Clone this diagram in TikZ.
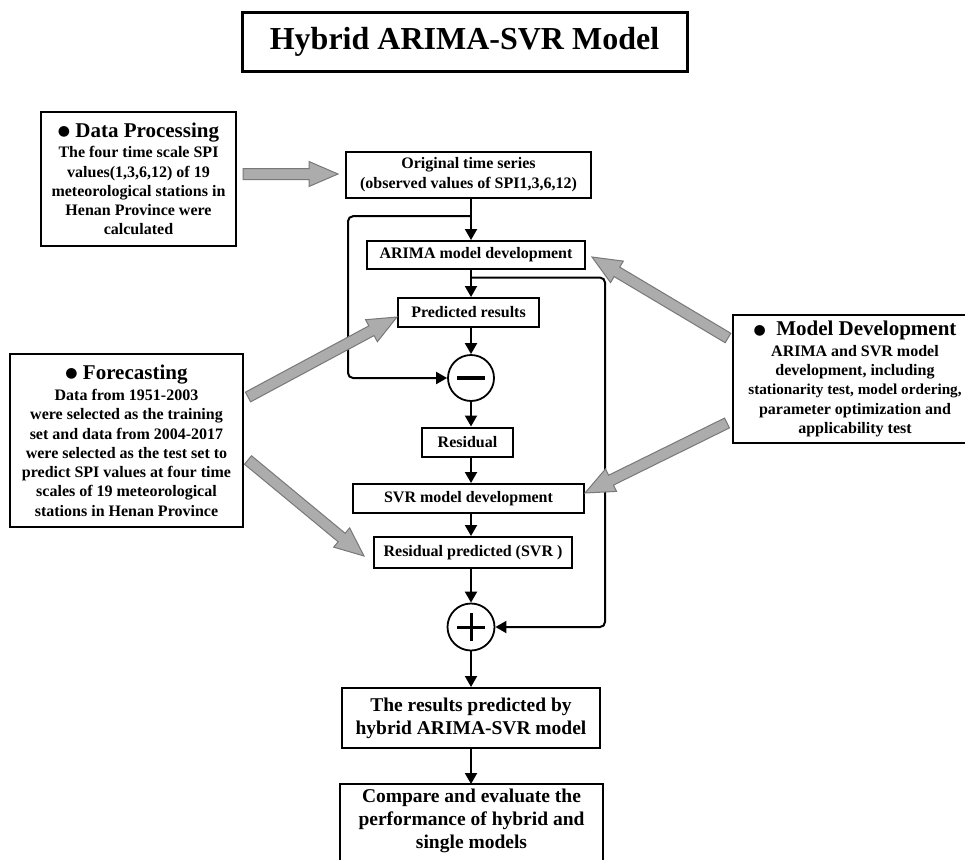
\documentclass[tikz,border=0pt]{standalone}
\usepackage{fontspec}
\setmainfont{Liberation Serif}
\newfontfamily\symf{DejaVu Sans}
\usetikzlibrary{arrows.meta,calc}
\definecolor{arrfill}{RGB}{172,172,172}
\definecolor{arrline}{RGB}{120,120,120}
\newcommand\bul{\raisebox{1.5pt}{\symf\fontsize{14}{14}\selectfont ●}}
\newcommand\headf{\fontsize{21}{24}\selectfont}
\newcommand\grayarrow[2]{%
  \coordinate (ga-h) at ($(#2)!29pt!(#1)$);
  \filldraw[grayarr] ($(#1)!5.5pt!90:(#2)$) -- ($(ga-h)!5.5pt!-90:(#1)$) -- ($(ga-h)!12.5pt!-90:(#1)$) -- (#2)
    -- ($(ga-h)!12.5pt!90:(#1)$) -- ($(ga-h)!5.5pt!90:(#1)$) -- ($(#1)!5.5pt!-90:(#2)$) -- cycle;}
\tikzset{
  box/.style={draw, line width=2pt, align=center, inner sep=0pt, font=\bfseries\fontsize{16}{19.3}\selectfont},
  titlebox/.style={draw, line width=3pt, inner sep=0pt, minimum width=445pt, minimum height=58pt, font=\bfseries\fontsize{32}{36}\selectfont},
  bigbox/.style={box, font=\bfseries\fontsize{19.5}{23.3}\selectfont},
  opcircle/.style={draw, circle, line width=1.8pt, minimum size=46pt, inner sep=0pt},
  flow/.style={line width=2pt},
  arr/.style={flow, -{Triangle[length=11pt,width=12pt]}},
  grayarr/.style={fill=arrfill, draw=arrline, line width=1pt, line join=miter},
}
\begin{document}
\begin{tikzpicture}[x=1pt,y=-1pt]
\useasboundingbox (0,0) rectangle (965,859);
\clip (0,0) rectangle (965,859);
\fill[white] (0,0) rectangle (965,859);

\node[titlebox] (title) at (464.5,42) {Hybrid ARIMA-SVR Model};

\node[box, minimum width=195pt, minimum height=134pt] (dp) at (138.5,179)
  {\headf\bul\ Data Processing\\[1pt]
   The four time scale SPI\\ values(1,3,6,12) of 19\\ meteorological stations in\\ Henan Province were\\ calculated};

\node[box, minimum width=233pt, minimum height=173pt] (fc) at (126.5,440.5)
  {\headf\bul\ Forecasting\\[2pt]
   Data from 1951-2003\\ were selected as the training\\ set and data from 2004-2017\\ were selected as the test set to\\
   predict SPI values at four time\\ scales of 19 meteorological\\ stations in Henan Province};

\node[box, minimum width=244pt, minimum height=128pt] (md) at (855,379)
  {\headf\bul\ \ Model Development\\[1pt]
   ARIMA and SVR model\\ development, including\\ {\fontsize{15.2}{19.3}\selectfont stationarity test, model ordering,}\\ parameter optimization and\\ applicability test};

\node[box, minimum width=245pt, minimum height=46pt, font=\bfseries\fontsize{16}{20}\selectfont] (orig) at (468.5,175)
  {Original time series\\(observed values of SPI1,3,6,12)};
\node[box, minimum width=218pt, minimum height=28pt] (arima) at (476,255) {ARIMA model development};
\node[box, minimum width=141pt, minimum height=29pt] (pred) at (468.5,312.5) {Predicted results};
\node[opcircle] (minus) at (471,378) {};
\node[box, minimum width=91pt, minimum height=29pt] (resid) at (467.5,442) {Residual};
\node[box, minimum width=231pt, minimum height=29pt] (svr) at (468.5,498.5) {SVR model development};
\node[box, minimum width=198pt, minimum height=31pt] (rp) at (473,552.5) {Residual predicted (SVR )};
\node[opcircle, minimum size=47pt] (plus) at (471,627) {};
\node[bigbox, minimum width=258pt, minimum height=60pt] (res) at (471,718)
  {The results predicted by\\ hybrid ARIMA-SVR model};
\node[bigbox, draw=none, anchor=north, minimum width=261pt, inner ysep=3.5pt] (cmp) at (471.5,784)
  {Compare and evaluate the\\ performance of hybrid and\\ single models};
\draw[line width=2pt] ($(cmp.south west)+(0,40)$) -- (cmp.north west) -- (cmp.north east) -- ($(cmp.south east)+(0,40)$);

% signs
\draw[line width=3.5pt] ([xshift=-14pt]minus.center) -- ([xshift=14pt]minus.center);
\draw[line width=3pt] ([xshift=-14pt]plus.center) -- ([xshift=14pt]plus.center);
\draw[line width=3pt] ([yshift=-14pt]plus.center) -- ([yshift=14pt]plus.center);

% main flow
\draw[arr] (orig.south -| plus) -- (arima.north -| plus);
\draw[arr] (arima.south -| plus) -- (pred.north -| plus);
\draw[arr] (pred.south -| plus) -- (minus.north);
\draw[arr] (minus.south) -- (resid.north -| plus);
\draw[arr] (resid.south -| plus) -- (svr.north -| plus);
\draw[arr] (svr.south -| plus) -- (rp.north -| plus);
\draw[arr] (rp.south -| plus) -- (plus.north);
\draw[arr] (plus.south) -- (res.north -| plus);
\draw[arr] (res.south -| plus) -- (cmp.north -| plus);

\coordinate (j1) at ($(orig.south -| plus)!0.42!(arima.north -| plus)$);
\coordinate (lx) at (348,300);
\draw[arr, rounded corners=5pt] (j1) -| (lx |- minus) -- (minus.west);
\coordinate (j2) at ($(arima.south -| plus)!0.28!(pred.north -| plus)$);
\coordinate (rx) at (605,400);
\draw[arr, rounded corners=5pt] (j2) -| (rx |- plus) -- (plus.east);

% gray arrows
\coordinate (g1a) at (243,174);  \coordinate (g1b) at (338,174);
\coordinate (g2a) at (248,397);  \coordinate (g2b) at (397,317);
\coordinate (g3a) at (248,460);  \coordinate (g3b) at (364,556);
\coordinate (g4a) at (728,338);  \coordinate (g4b) at (592,257);
\coordinate (g5a) at (727,423);  \coordinate (g5b) at (585,493);
\grayarrow{g1a}{g1b}
\grayarrow{g2a}{g2b}
\grayarrow{g3a}{g3b}
\grayarrow{g4a}{g4b}
\grayarrow{g5a}{g5b}
\end{tikzpicture}
\end{document}
